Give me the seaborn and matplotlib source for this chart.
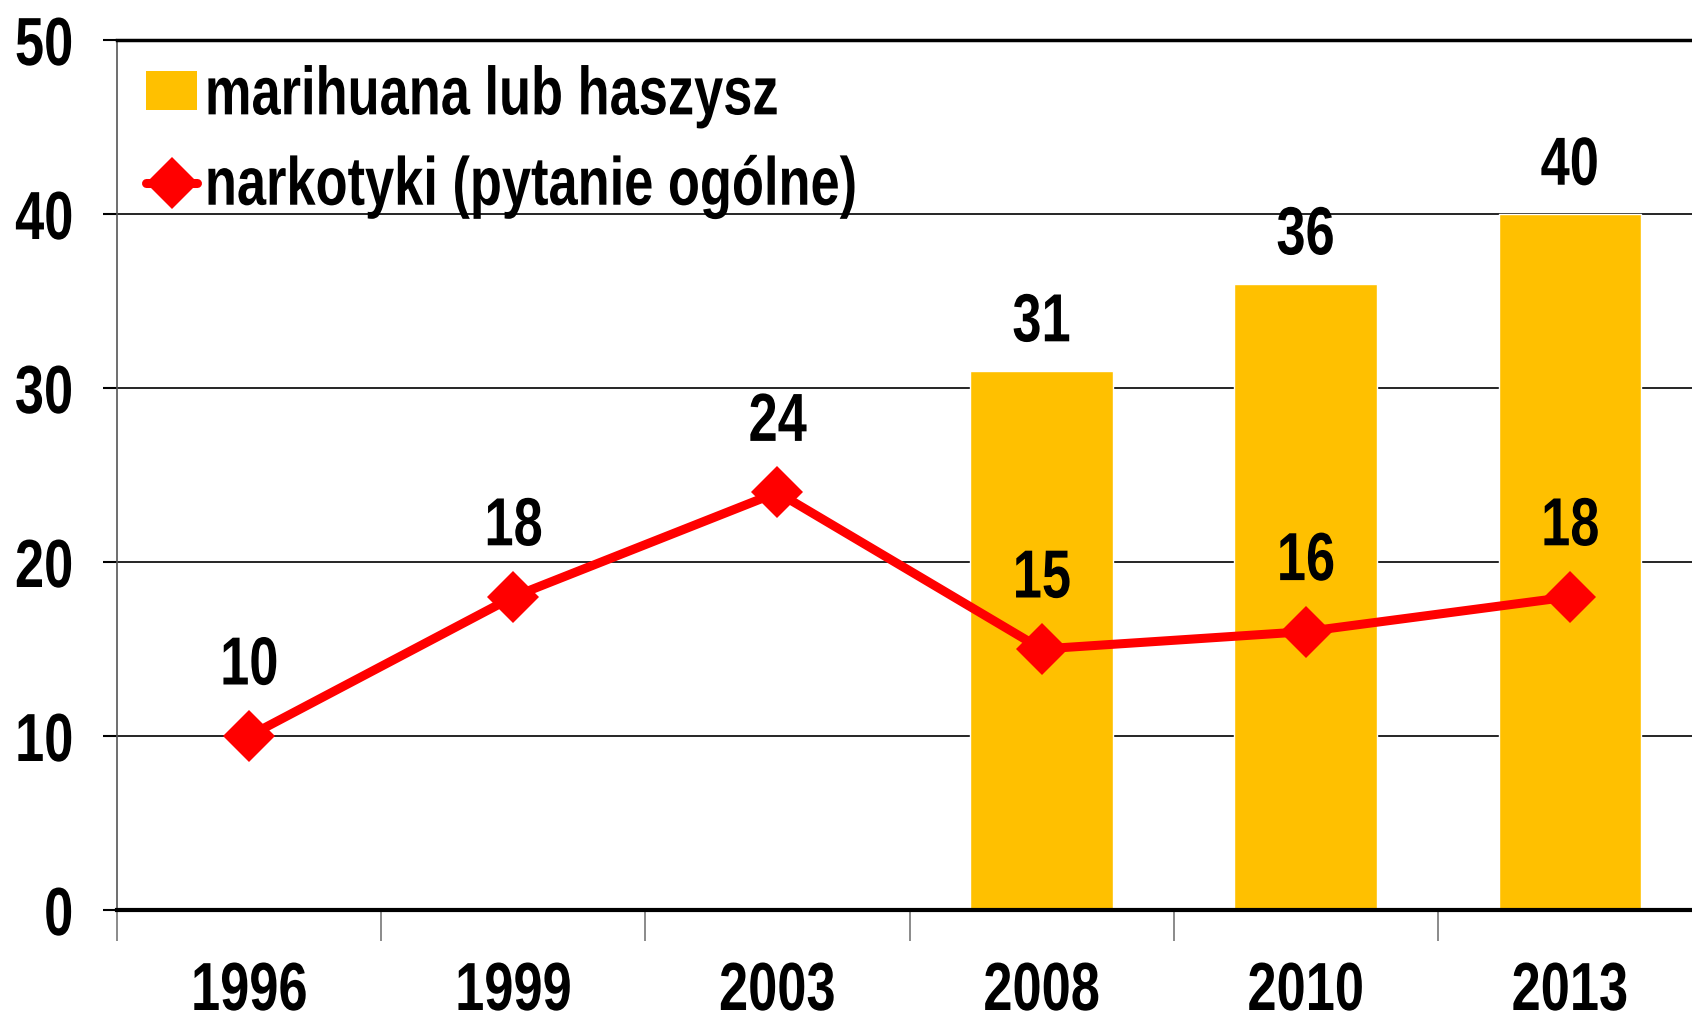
import numpy as np
import pandas as pd
import matplotlib
matplotlib.use("Agg")
import matplotlib.pyplot as plt
from matplotlib.patches import Patch
from matplotlib.lines import Line2D
from matplotlib.patheffects import AbstractPathEffect
from matplotlib.transforms import Affine2D
import seaborn as sns

years = ["1996", "1999", "2003", "2008", "2010", "2013"]
bar_years = ["2008", "2010", "2013"]
bar_values = [31, 36, 40]
line_values = [10, 18, 24, 15, 16, 18]
yticks = [0, 10, 20, 30, 40, 50]
bar_label = "marihuana lub haszysz"
line_label = "narkotyki (pytanie ogólne)"


class SqueezeX(AbstractPathEffect):
    """Narrow the text horizontally (Arial Narrow look) around an anchor."""
    def __init__(self, sx=0.77, anchor=0.5):
        super().__init__()
        self.sx = sx
        self.anchor = anchor

    def draw_path(self, renderer, gc, tpath, affine, rgbFace=None):
        ext = tpath.get_extents()
        cx = ext.x0 + self.anchor * (ext.x1 - ext.x0)
        sq = Affine2D().translate(-cx, 0).scale(self.sx, 1).translate(cx, 0)
        renderer.draw_path(gc, tpath, sq + affine, rgbFace)


sns.set_theme(style="white")
plt.rcParams["font.family"] = ["Liberation Sans", "DejaVu Sans"]
plt.rcParams["text.color"] = "black"
plt.rcParams["xtick.color"] = "black"
plt.rcParams["ytick.color"] = "black"
FS = 49
SX = 0.77

fig = plt.figure(figsize=(16.92, 10.21), dpi=100)
ax = fig.add_axes([117/1692, 111/1021, 1585/1692, 870/1021])

bars_df = pd.DataFrame({"year": bar_years, "value": bar_values})
sns.barplot(data=bars_df, x="year", y="value", order=years, color="#FFC000",
            saturation=1, width=0.54, ax=ax, zorder=2)
line_df = pd.DataFrame({"year": years, "value": line_values})
sns.lineplot(data=line_df, x="year", y="value", color="#FF0000", linewidth=6.5,
             marker="D", markersize=26, markeredgewidth=0, ax=ax, zorder=3, sort=False)

ax.set_ylim(0, 50)
ax.set_xlim(-0.5, 5.5)
ax.set_yticks(yticks)
ax.set_yticklabels([str(v) for v in yticks], fontsize=FS, fontweight="bold", color="black")
ax.set_xticks(range(len(years)))
ax.set_xticklabels(years, fontsize=FS, fontweight="bold", color="black")
ax.set_xlabel("")
ax.set_ylabel("")
for y in yticks[1:-1]:
    ax.axhline(y, color="black", linewidth=1.2, zorder=1)

ax.spines["top"].set_linewidth(2.5)
ax.spines["top"].set_color("black")
ax.spines["right"].set_visible(False)
ax.spines["left"].set_color("#555555")
ax.spines["left"].set_linewidth(1.2)
ax.spines["bottom"].set_color("black")
ax.spines["bottom"].set_linewidth(3)
ax.spines["bottom"].set_zorder(4)

ax.tick_params(axis="y", which="major", length=10, width=1.5, color="black",
               direction="out", pad=21, left=True)
ax.tick_params(axis="x", which="major", length=0, pad=36)
ax.set_xticks(np.arange(-0.5, 6.0, 1), minor=True)
ax.tick_params(axis="x", which="minor", length=22, width=1.2, color="#777777",
               direction="out", bottom=True)

for t in ax.get_yticklabels():
    t.set_path_effects([SqueezeX(SX, 1.0)])
for t in ax.get_xticklabels():
    t.set_path_effects([SqueezeX(SX, 0.5)])

for i, v in enumerate(line_values):
    a = ax.annotate(str(v), (i, v), xytext=(0, 27), textcoords="offset points",
                    ha="center", va="bottom", fontsize=FS, fontweight="bold", color="black")
    a.set_path_effects([SqueezeX(SX, 0.5)])
for yr, v in zip(bar_years, bar_values):
    i = years.index(yr)
    a = ax.annotate(str(v), (i, v), xytext=(0, 11), textcoords="offset points",
                    ha="center", va="bottom", fontsize=FS, fontweight="bold", color="black")
    a.set_path_effects([SqueezeX(SX, 0.5)])

handles = [Patch(facecolor="#FFC000", edgecolor="none", label=bar_label),
           Line2D([0], [0], color="#FF0000", linewidth=6.5, marker="D",
                  markersize=26, markeredgewidth=0, label=line_label)]
leg = ax.legend(handles=handles, loc="upper left", bbox_to_anchor=(29/1585, 0.972),
                frameon=False, prop={"size": FS, "weight": "bold"},
                handlelength=0.75, handleheight=0.5, handletextpad=0.1,
                labelspacing=0.38, borderaxespad=0.0, borderpad=0.0)
for t in leg.get_texts():
    t.set_color("black")
    t.set_path_effects([SqueezeX(SX, 0.0)])

fig.savefig("out.png", dpi=100)
